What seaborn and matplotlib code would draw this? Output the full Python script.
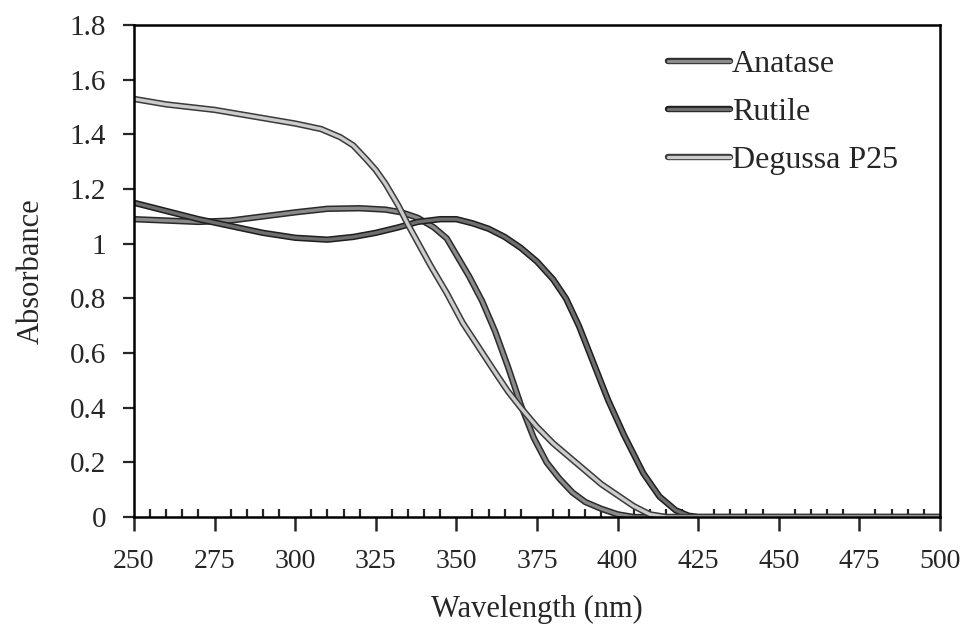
import numpy as np
import pandas as pd
import seaborn as sns
import matplotlib
matplotlib.use("Agg")
import matplotlib.pyplot as plt
import matplotlib.patheffects as pe
from matplotlib.ticker import MultipleLocator
from matplotlib.lines import Line2D

# ---- data ----
anatase_x = [250, 260, 270, 280, 290, 300, 310, 320, 328, 333, 338, 343, 347, 350, 354, 358,
             362, 366, 370, 374, 378, 382, 386, 390, 395, 400, 405, 425, 450, 475, 500]
anatase_y = [1.09, 1.085, 1.08, 1.085, 1.10, 1.115, 1.128, 1.13, 1.125, 1.115, 1.095, 1.06, 1.02,
             0.96, 0.88, 0.79, 0.68, 0.55, 0.41, 0.29, 0.20, 0.14, 0.09, 0.055, 0.03, 0.01, 0.0,
             0.0, 0.0, 0.0, 0.0]

rutile_x = [250, 260, 270, 280, 290, 300, 310, 318, 325, 332, 338, 345, 350, 355, 360, 365, 370,
            375, 380, 384, 388, 392, 397, 402, 408, 413, 418, 422, 425, 450, 475, 500]
rutile_y = [1.15, 1.12, 1.09, 1.065, 1.04, 1.022, 1.015, 1.025, 1.04, 1.06, 1.08, 1.09, 1.09,
            1.075, 1.055, 1.025, 0.985, 0.935, 0.87, 0.80, 0.70, 0.58, 0.43, 0.30, 0.16, 0.075,
            0.025, 0.005, 0.0, 0.0, 0.0, 0.0]

p25_x = [250, 260, 275, 290, 300, 308, 314, 318, 322, 325, 328, 332, 335, 342, 347, 352, 357,
         362, 366, 370, 375, 380, 385, 390, 395, 400, 405, 410, 415, 425, 450, 475, 500]
p25_y = [1.53, 1.51, 1.49, 1.46, 1.44, 1.42, 1.39, 1.36, 1.31, 1.27, 1.22, 1.14, 1.07, 0.92,
         0.82, 0.71, 0.62, 0.53, 0.46, 0.40, 0.33, 0.27, 0.22, 0.17, 0.12, 0.08, 0.04, 0.01, 0.0,
         0.0, 0.0, 0.0, 0.0]

series_names = ["Anatase", "Rutile", "Degussa P25"]
x_ticks = [250, 275, 300, 325, 350, 375, 400, 425, 450, 475, 500]
y_ticks = [0, 0.2, 0.4, 0.6, 0.8, 1, 1.2, 1.4, 1.6, 1.8]
y_tick_labels = ["0", "0.2", "0.4", "0.6", "0.8", "1", "1.2", "1.4", "1.6", "1.8"]

df = pd.concat([
    pd.DataFrame({"Wavelength": anatase_x, "Absorbance": anatase_y, "Sample": series_names[0]}),
    pd.DataFrame({"Wavelength": rutile_x, "Absorbance": rutile_y, "Sample": series_names[1]}),
    pd.DataFrame({"Wavelength": p25_x, "Absorbance": p25_y, "Sample": series_names[2]}),
], ignore_index=True)

# ---- style ----
sns.set_style("ticks")
plt.rcParams["font.family"] = ["Liberation Serif", "DejaVu Serif"]
plt.rcParams["axes.linewidth"] = 1.8

inner = {"Anatase": "#8a8a8a", "Rutile": "#6e6e6e", "Degussa P25": "#cccccc"}
edge = {"Anatase": "#2a2a2a", "Rutile": "#1e1e1e", "Degussa P25": "#3a3a3a"}

fig = plt.figure(figsize=(9.66, 6.29), dpi=100)
ax = fig.add_axes([0.1387, 0.178, 0.973 - 0.1387, 0.960 - 0.178])

sns.lineplot(data=df, x="Wavelength", y="Absorbance", hue="Sample", hue_order=series_names,
             palette=inner, ax=ax, linewidth=2.4, legend=False, estimator=None, sort=True)

for line, name in zip(ax.lines, series_names):
    line.set_path_effects([pe.Stroke(linewidth=4.6, foreground=edge[name]), pe.Normal()])
    line.set_solid_joinstyle("round")
    line.set_solid_capstyle("round")

ax.set_xlim(250, 500)
ax.set_ylim(0, 1.8)
ax.set_xticks(x_ticks)
ax.set_yticks(y_ticks)
ax.set_yticklabels(y_tick_labels)
ax.xaxis.set_minor_locator(MultipleLocator(5))
ax.tick_params(axis="x", which="major", direction="out", length=10, width=1.8,
               labelsize=20, pad=13)
ax.tick_params(axis="x", which="minor", direction="in", length=6, width=1.6)
ax.tick_params(axis="y", which="major", direction="out", length=8, width=1.6,
               labelsize=21, pad=12)
for s in ["top", "right", "left", "bottom"]:
    ax.spines[s].set_visible(True)
    ax.spines[s].set_color("black")

ax.set_xlabel("Wavelength (nm)", fontsize=22, labelpad=15)
ax.set_ylabel("Absorbance", fontsize=22, labelpad=17)

handles = []
for name in series_names:
    h = Line2D([], [], color=inner[name], linewidth=2.4)
    h.set_path_effects([pe.Stroke(linewidth=4.6, foreground=edge[name]), pe.Normal()])
    handles.append(h)
ax.legend(handles, series_names, loc="upper left", bbox_to_anchor=(0.6625, 0.95),
          borderpad=0, borderaxespad=0, frameon=False, fontsize=23, handlelength=1.95,
          handletextpad=0.05, labelspacing=0.58)

fig.savefig("out.png", dpi=100, facecolor="white")
